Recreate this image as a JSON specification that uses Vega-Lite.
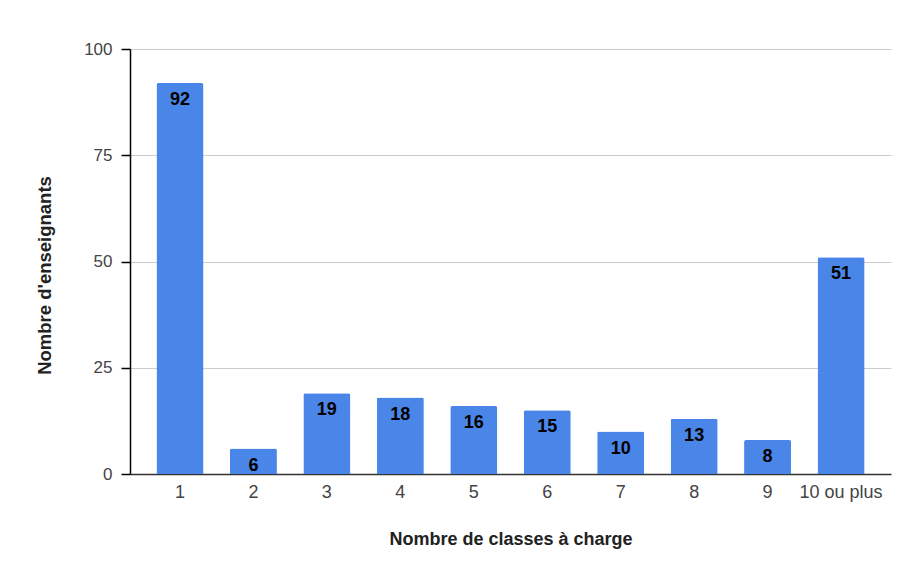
{
  "$schema": "https://vega.github.io/schema/vega-lite/v6.json",
  "autosize": "none",
  "width": 761,
  "height": 425,
  "padding": {"left": 130, "top": 49, "right": 16, "bottom": 96},
  "background": "#ffffff",
  "config": {
    "view": {"stroke": null},
    "font": "Liberation Sans"
  },
  "data": {
    "values": [
      {"classes": "1", "enseignants": 92},
      {"classes": "2", "enseignants": 6},
      {"classes": "3", "enseignants": 19},
      {"classes": "4", "enseignants": 18},
      {"classes": "5", "enseignants": 16},
      {"classes": "6", "enseignants": 15},
      {"classes": "7", "enseignants": 10},
      {"classes": "8", "enseignants": 13},
      {"classes": "9", "enseignants": 8},
      {"classes": "10 ou plus", "enseignants": 51}
    ]
  },
  "encoding": {
    "x": {
      "field": "classes",
      "type": "nominal",
      "sort": null,
      "scale": {"paddingInner": 0.36, "paddingOuter": 0.36},
      "axis": {
        "title": "Nombre de classes à charge",
        "titleFont": "Liberation Sans",
        "titleFontSize": 18,
        "titleFontWeight": "bold",
        "titleColor": "#222222",
        "titlePadding": 29,
        "labelAngle": 0,
        "labelFont": "Liberation Sans",
        "labelFontSize": 18,
        "labelColor": "#444444",
        "labelPadding": 9,
        "ticks": false,
        "domainColor": "#333333",
        "domainWidth": 1.5,
        "grid": false
      }
    },
    "y": {
      "field": "enseignants",
      "type": "quantitative",
      "scale": {"domain": [0, 100]},
      "axis": {
        "title": "Nombre d'enseignants",
        "titleFont": "Liberation Sans",
        "titleFontSize": 18.5,
        "titleFontWeight": "bold",
        "titleColor": "#222222",
        "titlePadding": 29,
        "titleY": 226,
        "values": [0, 25, 50, 75, 100],
        "labelFont": "Liberation Sans",
        "labelFontSize": 17,
        "labelColor": "#444444",
        "labelPadding": 9,
        "tickSize": 9,
        "tickColor": "#000000",
        "tickWidth": 1.5,
        "domainColor": "#000000",
        "domainWidth": 1.5,
        "gridColor": "#cccccc",
        "gridWidth": 1.2
      }
    }
  },
  "layer": [
    {
      "mark": {"type": "bar", "color": "#4a86e8", "cornerRadiusTopLeft": 2, "cornerRadiusTopRight": 2}
    },
    {
      "mark": {"type": "text", "baseline": "middle", "dy": 17, "font": "Liberation Sans", "fontSize": 18, "fontWeight": "bold", "color": "#000000"},
      "encoding": {"text": {"field": "enseignants", "type": "quantitative"}}
    }
  ]
}
